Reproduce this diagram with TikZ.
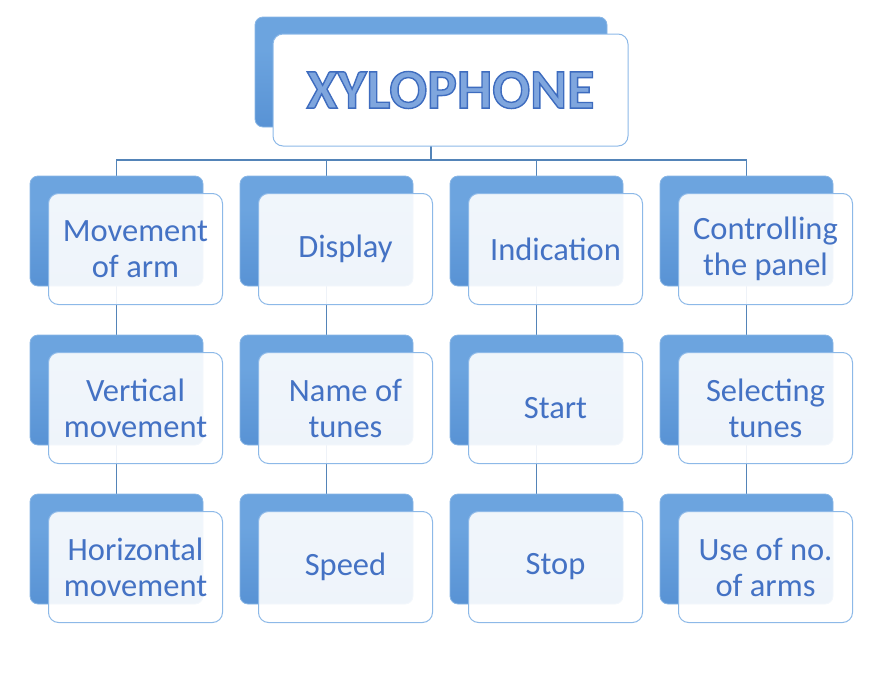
\documentclass[tikz,border=0pt]{standalone}
\usepackage{fontspec}
\setmainfont{Carlito}
\usetikzlibrary{backgrounds}

\definecolor{bluehi}{HTML}{B8D8F6}
\definecolor{bluemid}{HTML}{6CA4DF}
\definecolor{bluelo}{HTML}{4A86CD}
\definecolor{frontline}{HTML}{8DB9E8}
\definecolor{labeltext}{HTML}{4472C4}
\definecolor{linkline}{HTML}{5384B8}
\definecolor{titlefill}{HTML}{7FA6DE}

\pgfdeclareverticalshading{backshade}{100bp}{%
  color(0bp)=(bluelo); color(60bp)=(bluemid); color(90bp)=(bluemid);
  color(95bp)=(bluehi); color(100bp)=(bluemid)}

% outlined title letters (fill + stroke)
\newcommand\outlined[1]{\special{pdf:literal direct 2 Tr 1.4 w 0.243 0.424 0.749 RG}#1\special{pdf:literal direct 0 Tr}}

\begin{document}
\begin{tikzpicture}
    [
        x=1pt, y=-1pt,
        back/.style={rectangle, rounded corners=8pt, shading=backshade,
            draw=bluemid!80!white, line width=0.8pt,
            minimum width=173pt, minimum height=110pt, inner sep=0pt},
        front/.style={rectangle, rounded corners=10pt, fill=white,
            fill opacity=0.9, text opacity=1, draw=frontline, line width=1pt,
            minimum width=174pt, minimum height=111pt, align=center,
            text=labeltext, font=\fontsize{32.5}{36}\selectfont},
        link/.style={draw=linkline, line width=1.3pt},
    ]

    \useasboundingbox (0,0) rectangle (881,683);

    % title
    \node (tb) at (431,72) [back, minimum width=352pt] {};
    \node (tf) at (450.5,90) [front, fill opacity=1,
        minimum width=355pt, minimum height=112pt, text=titlefill,
        font=\fontsize{56}{60}\selectfont\bfseries]
        {\outlined{XYLOPHONE}};
    \coordinate (bus) at (431,160);

    % column 1
    \node (b11) at (116.5,231) [back] {};
    \node (f11) at (135.5,249) [front] {Movement\\of arm};
    \node (b12) at (116.5,390) [back] {};
    \node (f12) at (135.5,408) [front] {Vertical\\movement};
    \node (b13) at (116.5,549) [back] {};
    \node (f13) at (135.5,567) [front] {Horizontal\\movement};

    % column 2
    \node (b21) at (326.5,231) [back] {};
    \node (f21) at (345.5,249) [front] {Display};
    \node (b22) at (326.5,390) [back] {};
    \node (f22) at (345.5,408) [front] {Name of\\tunes};
    \node (b23) at (326.5,549) [back] {};
    \node (f23) at (345.5,567) [front] {Speed};

    % column 3
    \node (b31) at (536.5,231) [back] {};
    \node (f31) at (555.5,249) [front] {Indication};
    \node (b32) at (536.5,390) [back] {};
    \node (f32) at (555.5,408) [front] {Start};
    \node (b33) at (536.5,549) [back] {};
    \node (f33) at (555.5,567) [front] {Stop};

    % column 4
    \node (b41) at (746.5,231) [back] {};
    \node (f41) at (765.5,249) [front] {Controlling\\the panel};
    \node (b42) at (746.5,390) [back] {};
    \node (f42) at (765.5,408) [front] {Selecting\\tunes};
    \node (b43) at (746.5,549) [back] {};
    \node (f43) at (765.5,567) [front] {Use of no.\\of arms};

    \begin{scope}[on background layer]
    \path[link]
    (tb.south)  -- (bus)
    (b11.north) |- (bus) -| (b41.north)
    (b21.north) |- (bus)
    (b31.north) |- (bus)
    (b11) -- (b12)
    (b12) -- (b13)
    (b21) -- (b22)
    (b22) -- (b23)
    (b31) -- (b32)
    (b32) -- (b33)
    (b41) -- (b42)
    (b42) -- (b43);
    \end{scope}

\end{tikzpicture}
\end{document}
